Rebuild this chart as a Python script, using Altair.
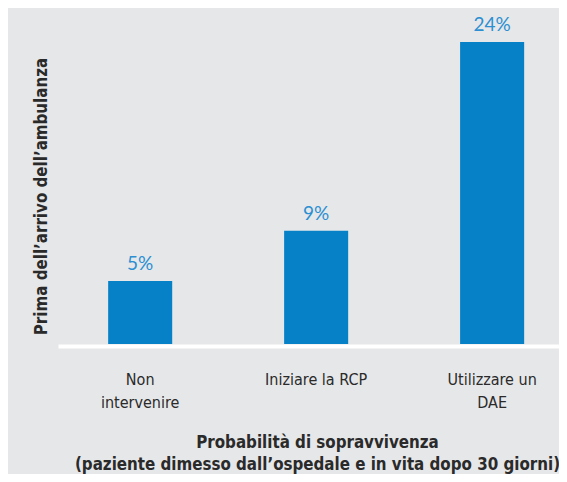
import altair as alt
import pandas as pd

categories = ["Non|intervenire", "Iniziare la RCP", "Utilizzare un|DAE"]
values = [5, 9, 24]
labels = ["5%", "9%", "24%"]

df = pd.DataFrame({"cat": categories, "val": values, "lab": labels})

BG = "#e6e7e8"
BAR = "#0681c8"
LAB = "#2b8fd2"
TXT = "#2a2a2a"
NARROW = "Liberation Sans Narrow, DejaVu Sans Condensed, sans-serif"

x = alt.X(
    "cat:N",
    sort=None,
    scale=alt.Scale(paddingInner=0.636, paddingOuter=0.2415, align=0.59),
    axis=alt.Axis(
        title=["Probabilità di sopravvivenza",
               "(paziente dimesso dall’ospedale e in vita dopo 30 giorni)"],
        titleFont=NARROW, titleFontSize=16.8, titleFontWeight="bold",
        titleColor=TXT, titleLineHeight=22, titleBaseline="alphabetic",
        titleX=259, titleY=101, titleAlign="center",
        labelExpr="split(datum.label, '|')",
        labelFont=NARROW, labelFontSize=16, labelColor=TXT,
        labelLineHeight=23.4, labelPadding=25, labelAngle=0,
        ticks=False, tickSize=0, domain=True, domainColor="white",
        domainWidth=4, offset=2, grid=False,
    ),
)

y = alt.Y(
    "val:Q",
    scale=alt.Scale(domain=[0, 26.7], nice=False),
    axis=alt.Axis(
        title="Prima dell’arrivo dell’ambulanza",
        titleFont=NARROW, titleFontSize=16.8, titleFontWeight="bold",
        titleColor=TXT, titleAngle=270, titleBaseline="alphabetic",
        titleAlign="center", titleX=-12, titleY=188,
        labels=False, ticks=False, domain=False, grid=False,
    ),
)

bars = alt.Chart(df).mark_bar(color=BAR).encode(x=x, y=y)
text = alt.Chart(df).mark_text(
    font="Lato", fontSize=19, color=LAB, dy=-11, baseline="alphabetic"
).encode(x=alt.X("cat:N", sort=None), y="val:Q", text="lab:N")

chart = (
    alt.layer(bars, text)
    .properties(
        width=501, height=336,
        autosize=alt.AutoSizeParams(type="none"),
        padding={"left": 50, "top": 0, "right": 0, "bottom": 130},
        background=BG,
    )
    .configure_view(stroke=None)
)

chart.save("out.html", embed_options={"renderer": "svg", "actions": False})
